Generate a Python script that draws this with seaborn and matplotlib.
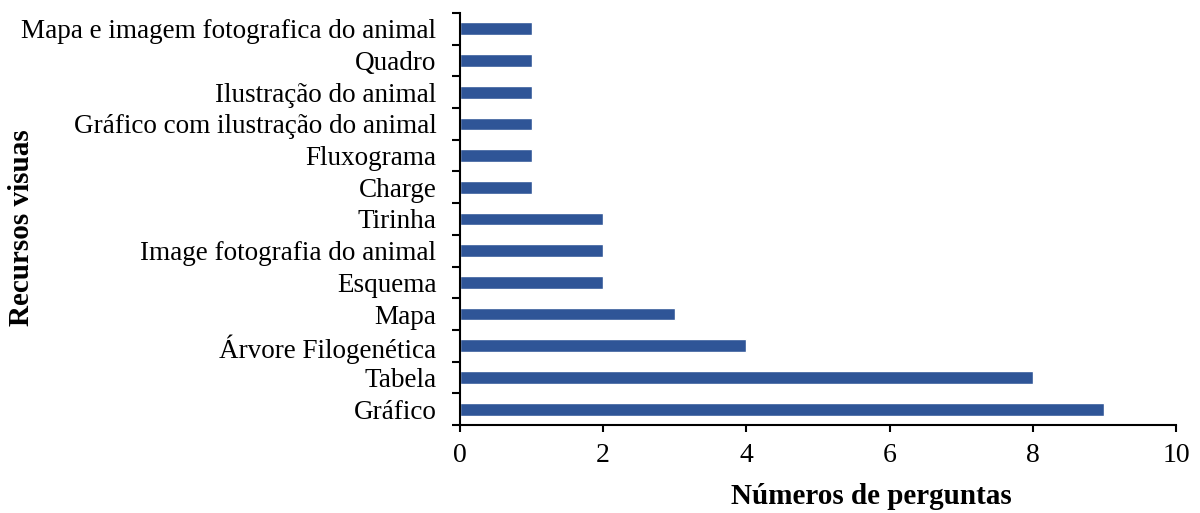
import matplotlib
matplotlib.use("Agg")
import matplotlib.pyplot as plt
import seaborn as sns
import pandas as pd
from matplotlib.ticker import FixedLocator

recursos = [
    "Mapa e imagem fotografica do animal",
    "Quadro",
    "Ilustração do animal",
    "Gráfico com ilustração do animal",
    "Fluxograma",
    "Charge",
    "Tirinha",
    "Image fotografia do animal",
    "Esquema",
    "Mapa",
    "Árvore Filogenética",
    "Tabela",
    "Gráfico",
]
perguntas = [1, 1, 1, 1, 1, 1, 2, 2, 2, 3, 4, 8, 9]
x_ticks = [0, 2, 4, 6, 8, 10]

df = pd.DataFrame({"Recurso": recursos, "Perguntas": perguntas})

sns.set_style("white")
plt.rcParams["font.family"] = ["Liberation Serif", "DejaVu Serif"]
plt.rcParams["text.color"] = "black"
plt.rcParams["axes.labelcolor"] = "black"
plt.rcParams["xtick.color"] = "black"
plt.rcParams["ytick.color"] = "black"

fig = plt.figure(figsize=(12, 5.13), dpi=100)
ax = fig.add_axes([0.3833, 0.1715, 0.5967, 0.8032])

sns.barplot(data=df, x="Perguntas", y="Recurso", orient="h",
            color="#2F5597", width=0.4, saturation=1, ax=ax)

ax.set_xlim(0, 10)
ax.set_ylim(len(recursos) - 0.5, -0.5)
ax.set_xticks(x_ticks)
ax.set_xticklabels([str(t) for t in x_ticks])

# category separators as tick marks on the left axis
ax.yaxis.set_minor_locator(FixedLocator([i - 0.5 for i in range(len(recursos) + 1)]))
ax.tick_params(axis="y", which="major", left=False, length=0, pad=17, labelsize=19.5)
ax.tick_params(axis="y", which="minor", left=True, length=6, width=1.5,
               color="black", direction="out")
ax.tick_params(axis="x", which="major", bottom=True, length=5, width=1.5,
               color="black", direction="out", labelsize=20, pad=8)

for side in ["top", "right"]:
    ax.spines[side].set_visible(False)
for side in ["left", "bottom"]:
    ax.spines[side].set_color("black")
    ax.spines[side].set_linewidth(1.5)

ax.set_xlabel("Números de perguntas", fontsize=21, fontweight="bold")
ax.set_ylabel("Recursos visuas", fontsize=21, fontweight="bold")
ax.xaxis.set_label_coords(0.575, -0.141)
ax.yaxis.set_label_coords(-0.594, 0.478)

fig.savefig("out.png", dpi=100, facecolor="white")
